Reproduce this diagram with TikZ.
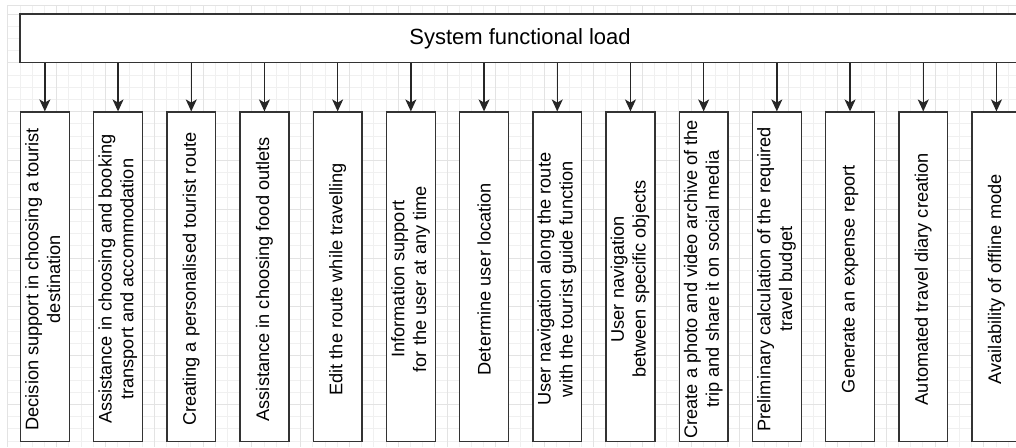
\documentclass[tikz,border=0pt]{standalone}
\usepackage{fontspec}
\setmainfont{Liberation Sans}
\usetikzlibrary{matrix,arrows.meta}

\newcommand{\twoline}[2]{\begin{tabular}{@{}c@{}}#1\\#2\end{tabular}}

\tikzset{
  func/.style={draw=black!80, fill=white, line width=0.65pt, rotate=90, anchor=center,
    align=center, inner sep=0pt, minimum width=164.6pt, minimum height=24.4pt,
    font=\fontsize{9.1}{10.9}\selectfont},
  head/.style={draw=black!80, fill=white, line width=0.65pt, inner sep=0pt,
    minimum width=500pt, minimum height=24.4pt, font=\fontsize{11}{13}\selectfont},
  gridmin/.style={draw=black!6, line width=0.4pt},
  gridmaj/.style={draw=black!11, line width=0.4pt}
}

\begin{document}
\begin{tikzpicture}[x=0.5pt, y=-0.5pt]
  \useasboundingbox[fill=white] (0,0) rectangle (1016,447);
  % background grid
  \foreach \i in {0,...,82}
    \draw[gridmin] ({7.8+12.2*\i},5) -- ({7.8+12.2*\i},447);
  \foreach \j in {0,...,35}
    \draw[gridmin] (7.3,{14+12.2*\j}) -- (1016,{14+12.2*\j});
  \foreach \i in {0,4,...,80}
    \draw[gridmaj] ({7.8+12.2*\i},5) -- ({7.8+12.2*\i},447);
  \foreach \j in {0,4,...,32}
    \draw[gridmaj] (7.3,{14+12.2*\j}) -- (1016,{14+12.2*\j});
  \draw[gridmaj] (7.3,5) -- (1016,5) (7.3,5) -- (7.3,447);

  \node[head] (top) at (520,38.4) {System functional load};

  \matrix (m) [matrix of nodes, column sep=11.55pt, inner sep=0pt, nodes={func},
    anchor=north west] at (19.4,111)
  {
 \twoline{Decision support in choosing a tourist}{destination} &
 \twoline{Assistance in choosing and booking}{transport and accommodation} &
 Creating a personalised tourist route &
 Assistance in choosing food outlets &
 Edit the route while travelling &
 \twoline{Information support}{for the user at any time} &
 Determine user location &
 \twoline{User navigation along the route}{with the tourist guide function} &
 \twoline{User navigation}{between specific objects} &
 \twoline{Create a photo and video archive of the}{trip and share it on social media} &
 \twoline{Preliminary calculation of the required}{travel budget} &
 Generate an expense report &
 Automated travel diary creation &
 Availability of offline mode \\
};

  % rotated boxes: .east is the top side
  \path[-{Stealth[length=6pt,width=5.5pt,inset=1.6pt]}, black!85, line width=0.65pt]
  (top.south -| m-1-1.east) edge (m-1-1.east)
  (top.south -| m-1-2.east) edge (m-1-2.east)
  (top.south -| m-1-3.east) edge (m-1-3.east)
  (top.south -| m-1-4.east) edge (m-1-4.east)
  (top.south -| m-1-5.east) edge (m-1-5.east)
  (top.south -| m-1-6.east) edge (m-1-6.east)
  (top.south -| m-1-7.east) edge (m-1-7.east)
  (top.south -| m-1-8.east) edge (m-1-8.east)
  (top.south -| m-1-9.east) edge (m-1-9.east)
  (top.south -| m-1-10.east) edge (m-1-10.east)
  (top.south -| m-1-11.east) edge (m-1-11.east)
  (top.south -| m-1-12.east) edge (m-1-12.east)
  (top.south -| m-1-13.east) edge (m-1-13.east)
  (top.south -| m-1-14.east) edge (m-1-14.east)
  ;
\end{tikzpicture}
\end{document}
